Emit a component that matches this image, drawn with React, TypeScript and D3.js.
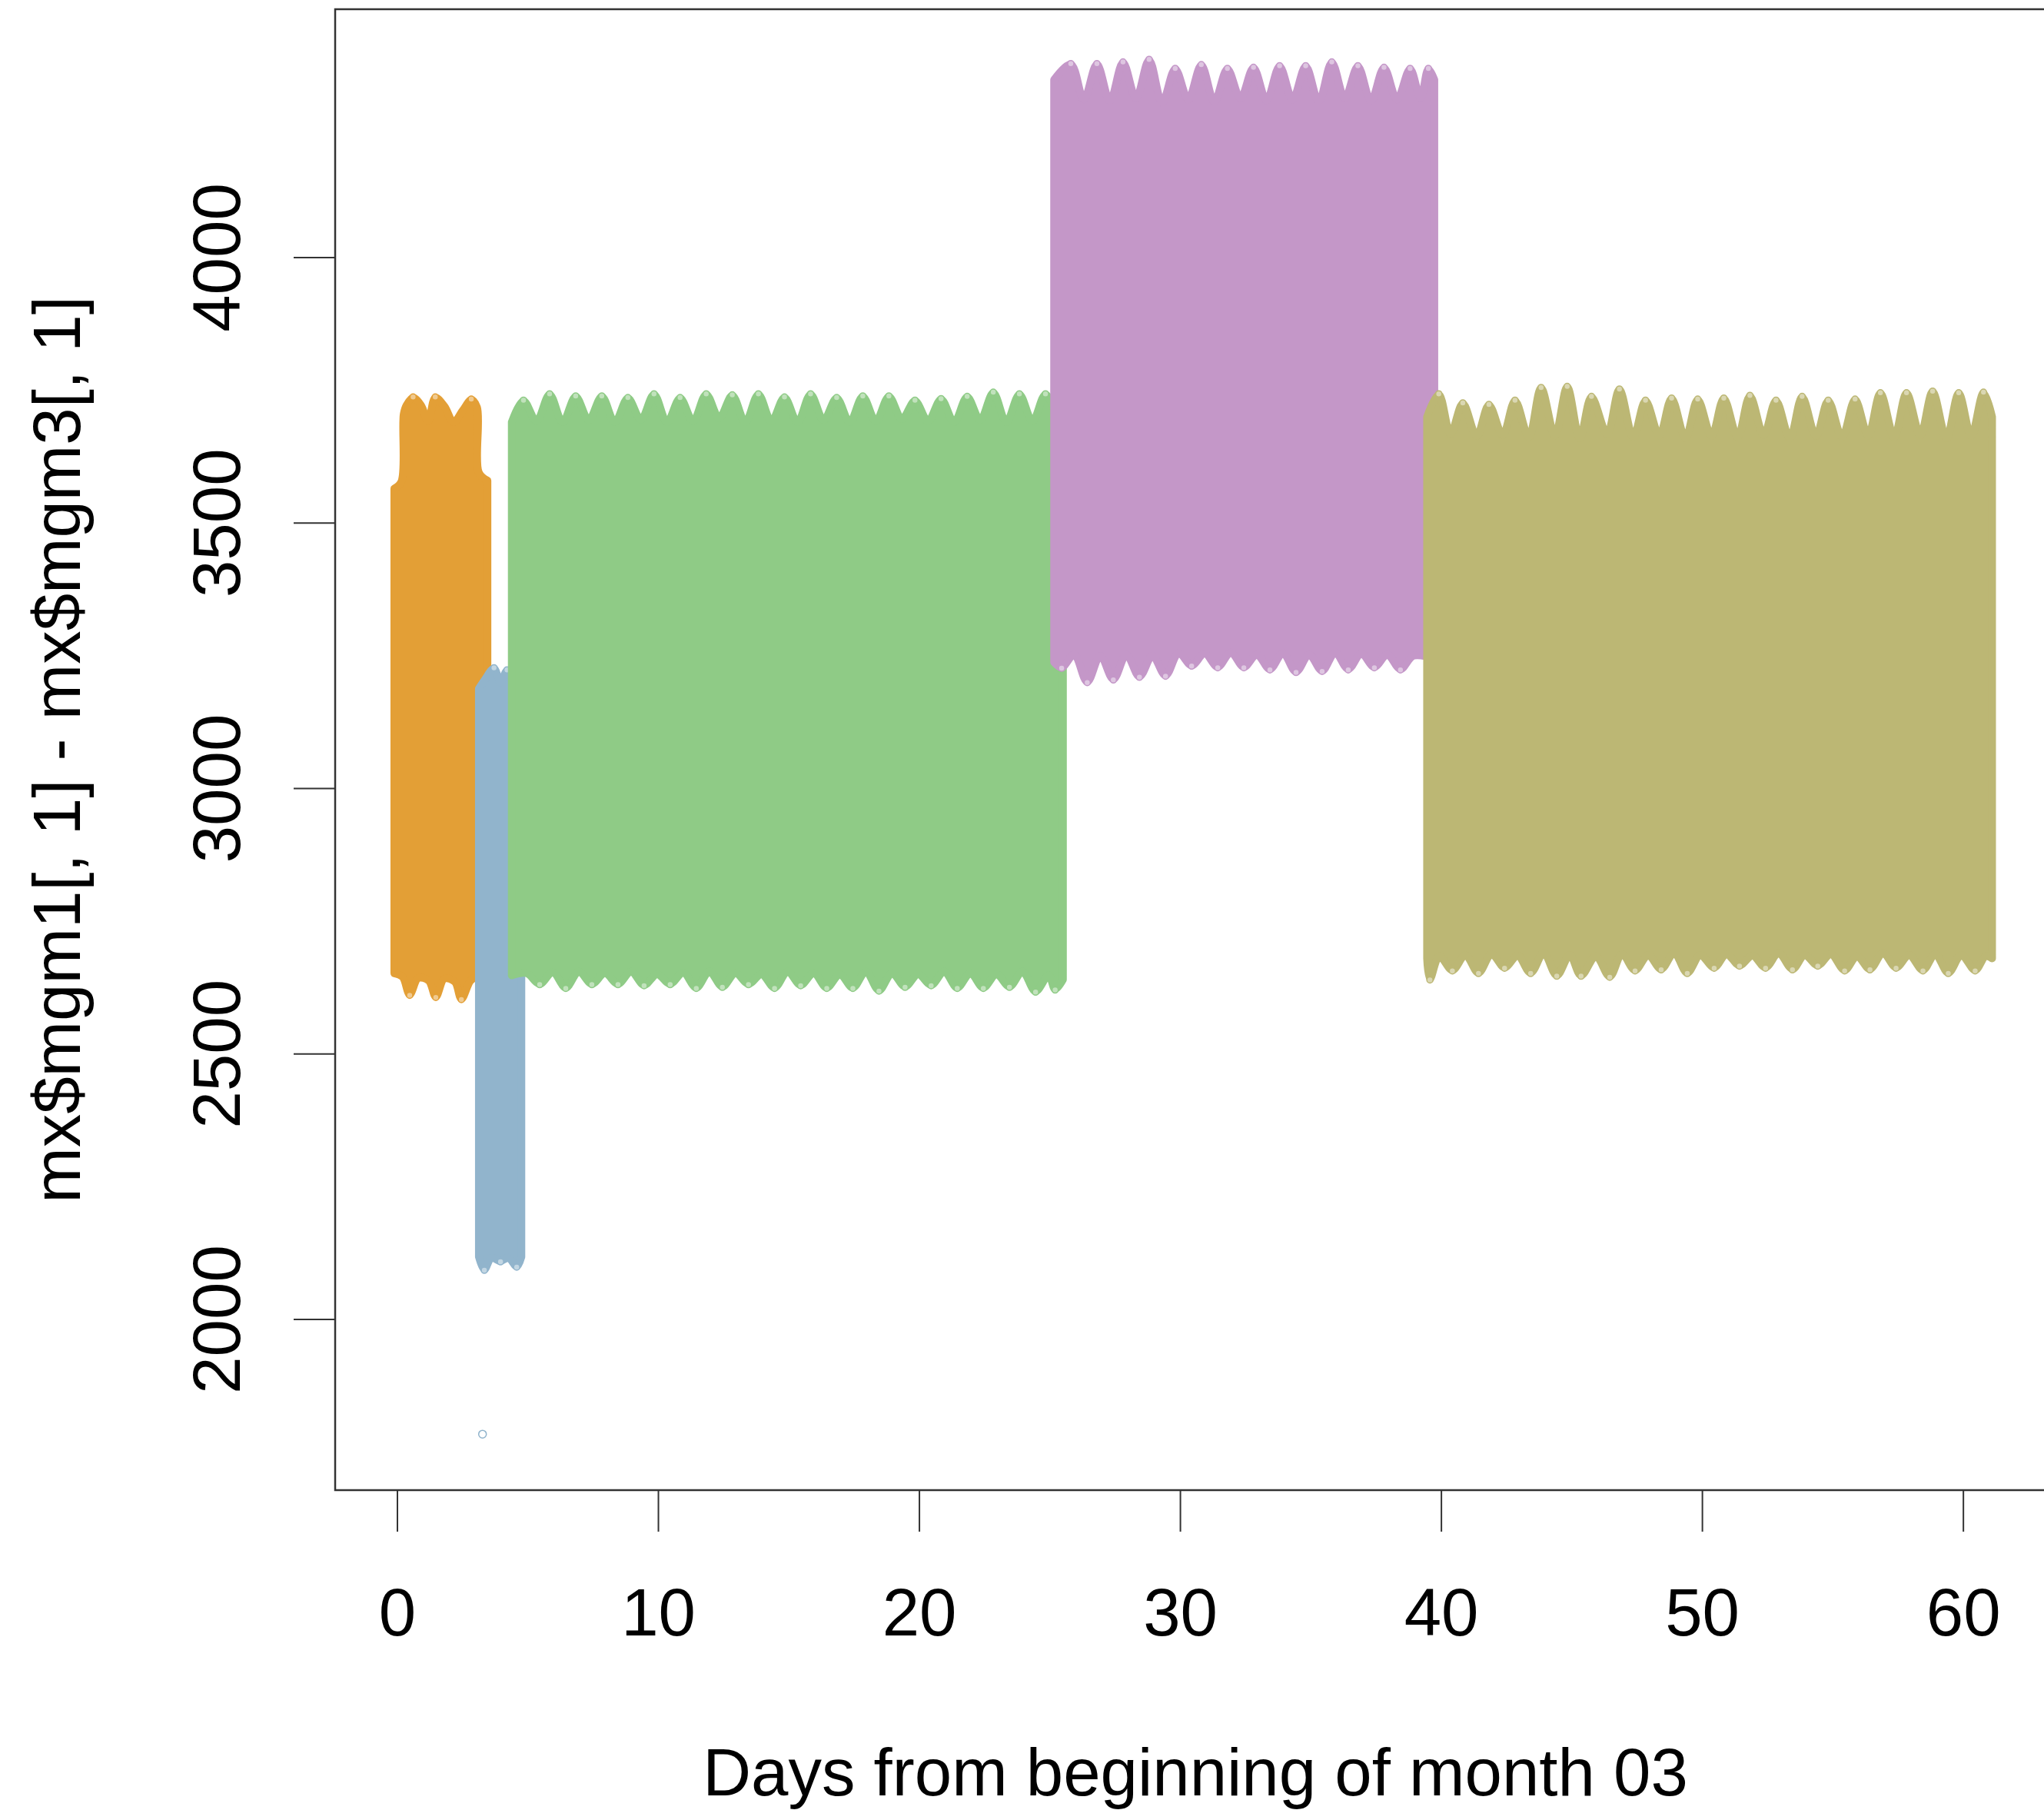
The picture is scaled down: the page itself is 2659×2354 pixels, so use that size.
import React, { useEffect, useRef } from "react";
import * as d3 from "d3";

const WIDTH = 2659;
const HEIGHT = 2354;

// outline of each point cloud as [day, value]
const orangeUpper = [[-0.12, 3565], [0.15, 3578], [0.24, 3705], [0.35, 3722], [0.6, 3736], [0.9, 3722], [1.18, 3692], [1.45, 3736], [1.8, 3720], [2.15, 3690], [2.5, 3712], [2.83, 3732], [3.05, 3718], [3.12, 3595], [3.45, 3580]];
const orangeLower = [[-0.12, 2652], [0.2, 2645], [0.47, 2612], [0.8, 2643], [1.2, 2638], [1.47, 2608], [1.8, 2642], [2.2, 2636], [2.45, 2604], [2.8, 2638], [3.1, 2648], [3.45, 2652]];

const blueUpper = [[3.12, 3188], [3.35, 3205], [3.7, 3226], [3.95, 3200], [4.2, 3222], [4.45, 3198], [4.75, 3185]];
const blueLower = [[3.12, 2118], [3.33, 2094], [3.6, 2116], [3.95, 2110], [4.25, 2116], [4.57, 2100], [4.75, 2118]];

const greenUpper = [[4.38, 3690], [4.83, 3730], [5.33, 3692], [5.83, 3742], [6.33, 3690], [6.83, 3738], [7.33, 3694], [7.83, 3738], [8.33, 3690], [8.83, 3735], [9.33, 3695], [9.83, 3742], [10.33, 3690], [10.83, 3735], [11.33, 3692], [11.83, 3742], [12.33, 3698], [12.83, 3740], [13.33, 3690], [13.83, 3742], [14.33, 3692], [14.83, 3736], [15.33, 3690], [15.83, 3742], [16.33, 3694], [16.83, 3735], [17.33, 3690], [17.83, 3738], [18.33, 3692], [18.83, 3738], [19.33, 3696], [19.83, 3730], [20.33, 3692], [20.83, 3733], [21.33, 3690], [21.83, 3737], [22.33, 3694], [22.83, 3745], [23.33, 3690], [23.83, 3742], [24.33, 3692], [24.83, 3742], [25.3, 3700], [25.5, 3690]];
const greenLower = [[4.38, 2648], [4.95, 2652], [5.45, 2632], [5.95, 2654], [6.45, 2625], [6.95, 2655], [7.45, 2632], [7.95, 2652], [8.45, 2632], [8.95, 2655], [9.45, 2630], [9.95, 2650], [10.45, 2632], [10.95, 2653], [11.45, 2625], [11.95, 2655], [12.45, 2627], [12.95, 2652], [13.45, 2632], [13.95, 2650], [14.45, 2625], [14.95, 2655], [15.45, 2630], [15.95, 2652], [16.45, 2625], [16.95, 2650], [17.45, 2625], [17.95, 2655], [18.45, 2620], [18.95, 2652], [19.45, 2627], [19.95, 2650], [20.45, 2630], [20.95, 2655], [21.45, 2625], [21.95, 2652], [22.45, 2625], [22.95, 2650], [23.45, 2627], [23.95, 2655], [24.45, 2618], [24.95, 2648], [25.2, 2622], [25.5, 2640]];

const purpleUpper = [[25.16, 4335], [25.8, 4364], [26.3, 4298], [26.8, 4364], [27.3, 4295], [27.8, 4367], [28.3, 4300], [28.8, 4372], [29.3, 4292], [29.8, 4355], [30.3, 4298], [30.8, 4362], [31.3, 4294], [31.8, 4355], [32.3, 4300], [32.8, 4357], [33.3, 4296], [33.8, 4360], [34.3, 4298], [34.8, 4360], [35.3, 4294], [35.8, 4367], [36.3, 4300], [36.8, 4360], [37.3, 4295], [37.8, 4357], [38.3, 4298], [38.8, 4355], [39.2, 4300], [39.5, 4355], [39.73, 4335]];
const purpleLower = [[25.16, 3238], [25.45, 3228], [25.93, 3252], [26.43, 3201], [26.93, 3250], [27.43, 3206], [27.93, 3252], [28.43, 3211], [28.93, 3250], [29.43, 3213], [29.93, 3255], [30.43, 3232], [30.93, 3254], [31.43, 3229], [31.93, 3256], [32.43, 3229], [32.93, 3252], [33.43, 3225], [33.93, 3255], [34.43, 3220], [34.93, 3252], [35.43, 3222], [35.93, 3256], [36.43, 3225], [36.93, 3254], [37.43, 3229], [37.93, 3252], [38.43, 3225], [38.93, 3250], [39.73, 3245]];

const oliveUpper = [[39.45, 3700], [39.9, 3742], [40.35, 3668], [40.82, 3725], [41.35, 3664], [41.82, 3722], [42.35, 3666], [42.82, 3730], [43.35, 3662], [43.82, 3754], [44.35, 3665], [44.82, 3756], [45.3, 3660], [45.75, 3737], [46.35, 3668], [46.82, 3751], [47.35, 3662], [47.82, 3730], [48.35, 3665], [48.82, 3734], [49.35, 3660], [49.82, 3732], [50.35, 3664], [50.82, 3734], [51.35, 3662], [51.82, 3739], [52.35, 3666], [52.82, 3730], [53.35, 3660], [53.82, 3737], [54.35, 3664], [54.82, 3730], [55.35, 3662], [55.85, 3732], [56.35, 3665], [56.82, 3744], [57.35, 3662], [57.82, 3744], [58.35, 3666], [58.82, 3747], [59.35, 3660], [59.82, 3744], [60.3, 3664], [60.77, 3745], [61.1, 3700]];
const oliveLower = [[39.45, 2680], [39.56, 2641], [39.92, 2684], [40.42, 2658], [40.92, 2686], [41.42, 2653], [41.92, 2688], [42.42, 2663], [42.92, 2685], [43.42, 2653], [43.92, 2690], [44.42, 2648], [44.92, 2686], [45.35, 2648], [45.92, 2684], [46.45, 2646], [46.92, 2688], [47.42, 2658], [47.92, 2686], [48.42, 2660], [48.92, 2690], [49.42, 2653], [49.92, 2686], [50.45, 2663], [50.92, 2688], [51.42, 2667], [51.92, 2685], [52.42, 2663], [52.92, 2690], [53.45, 2660], [53.92, 2686], [54.42, 2667], [54.92, 2688], [55.45, 2658], [55.92, 2684], [56.42, 2660], [56.92, 2690], [57.42, 2663], [57.92, 2686], [58.45, 2658], [58.92, 2688], [59.42, 2653], [59.92, 2686], [60.45, 2658], [60.85, 2684], [61.1, 2680]];

// lone point below the blue cloud
const outliers = [[3.26, 1784]];

const segments = [
  { color: "#E39F36", upper: orangeUpper, lower: orangeLower },
  { color: "#91B4CC", upper: blueUpper, lower: blueLower },
  { color: "#8FCB86", upper: greenUpper, lower: greenLower },
  { color: "#C497C8", upper: purpleUpper, lower: purpleLower },
  { color: "#BCB774", upper: oliveUpper, lower: oliveLower },
];

const xTicks = [0, 10, 20, 30, 40, 50, 60];
const yTicks = [2000, 2500, 3000, 3500, 4000];

const xTitle = "Days from beginning of month 03";
const yTitle = "mx$mgm1[, 1] - mx$mgm3[, 1]";

const FONT = "'Liberation Sans', Arial, Helvetica, sans-serif";

const App = () => {
  const ref = useRef(null);

  useEffect(() => {
    const svg = d3.select(ref.current);
    svg.selectAll("*").remove();

    const box = { left: 436, right: 2674, top: 12, bottom: 1938 };
    const x = d3.scaleLinear().domain([-2.386, 63.53]).range([box.left, box.right]);
    const y = d3.scaleLinear().domain([1678.5, 4467.8]).range([box.bottom, box.top]);

    const line = d3
      .line()
      .x(d => x(d[0]))
      .y(d => y(d[1]))
      .curve(d3.curveCatmullRom.alpha(0.5));

    const clouds = svg.append("g");
    segments.forEach(s => {
      const top = line(s.upper);
      const bottom = line(s.lower.slice().reverse()).replace(/^M/, "L");
      // thick round stroke stands in for the marker size: rounds the tips, narrows the gaps
      clouds
        .append("path")
        .attr("d", top + bottom + "Z")
        .attr("fill", s.color)
        .attr("stroke", s.color)
        .attr("stroke-width", 10)
        .attr("stroke-linejoin", "round");

      // open circles at the tips of the daily swings
      const tips = [];
      s.upper.forEach((p, i) => {
        if (i > 0 && i < s.upper.length - 1 && p[1] > s.upper[i - 1][1] && p[1] > s.upper[i + 1][1]) tips.push([p, -1]);
      });
      s.lower.forEach((p, i) => {
        if (i > 0 && i < s.lower.length - 1 && p[1] < s.lower[i - 1][1] && p[1] < s.lower[i + 1][1]) tips.push([p, 1]);
      });
      clouds
        .selectAll(null)
        .data(tips)
        .enter()
        .append("circle")
        .attr("cx", d => x(d[0][0]))
        .attr("cy", d => y(d[0][1]) + d[1] * 1)
        .attr("r", 4)
        .attr("fill", "#fff")
        .attr("fill-opacity", 0.45)
        .attr("stroke", s.color)
        .attr("stroke-width", 1.5);
    });

    svg
      .append("g")
      .selectAll("circle")
      .data(outliers)
      .enter()
      .append("circle")
      .attr("cx", d => x(d[0]))
      .attr("cy", d => y(d[1]))
      .attr("r", 5)
      .attr("fill", "none")
      .attr("stroke", "#91B4CC")
      .attr("stroke-width", 1.5);

    // plot frame (right side runs off the image)
    svg
      .append("rect")
      .attr("x", box.left)
      .attr("y", box.top)
      .attr("width", box.right - box.left)
      .attr("height", box.bottom - box.top)
      .attr("fill", "none")
      .attr("stroke", "#333")
      .attr("stroke-width", 2.5);

    const xAxis = svg.append("g");
    xAxis
      .selectAll("line")
      .data(xTicks)
      .enter()
      .append("line")
      .attr("x1", d => x(d))
      .attr("x2", d => x(d))
      .attr("y1", box.bottom)
      .attr("y2", box.bottom + 54)
      .attr("stroke", "#333")
      .attr("stroke-width", 2);
    xAxis
      .selectAll("text")
      .data(xTicks)
      .enter()
      .append("text")
      .attr("x", d => x(d))
      .attr("y", 2127)
      .attr("text-anchor", "middle")
      .style("font-family", FONT)
      .style("font-size", "87px")
      .text(d => d);

    const yAxis = svg.append("g");
    yAxis
      .selectAll("line")
      .data(yTicks)
      .enter()
      .append("line")
      .attr("x1", box.left - 54)
      .attr("x2", box.left)
      .attr("y1", d => y(d))
      .attr("y2", d => y(d))
      .attr("stroke", "#333")
      .attr("stroke-width", 2);
    yAxis
      .selectAll("text")
      .data(yTicks)
      .enter()
      .append("text")
      .attr("transform", d => `translate(312 ${y(d)}) rotate(-90)`)
      .attr("text-anchor", "middle")
      .style("font-family", FONT)
      .style("font-size", "87px")
      .text(d => d);

    svg
      .append("text")
      .attr("x", (box.left + box.right) / 2)
      .attr("y", 2335)
      .attr("text-anchor", "middle")
      .style("font-family", FONT)
      .style("font-size", "87px")
      .text(xTitle);

    svg
      .append("text")
      .attr("transform", `translate(104 ${(box.top + box.bottom) / 2}) rotate(-90)`)
      .attr("text-anchor", "middle")
      .style("font-family", FONT)
      .style("font-size", "87px")
      .text(yTitle);
  }, []);

  return (
    <svg
      ref={ref}
      width={WIDTH}
      height={HEIGHT}
      style={{ position: "absolute", left: 0, top: 0, background: "#fff" }}
    />
  );
};

export default App;
